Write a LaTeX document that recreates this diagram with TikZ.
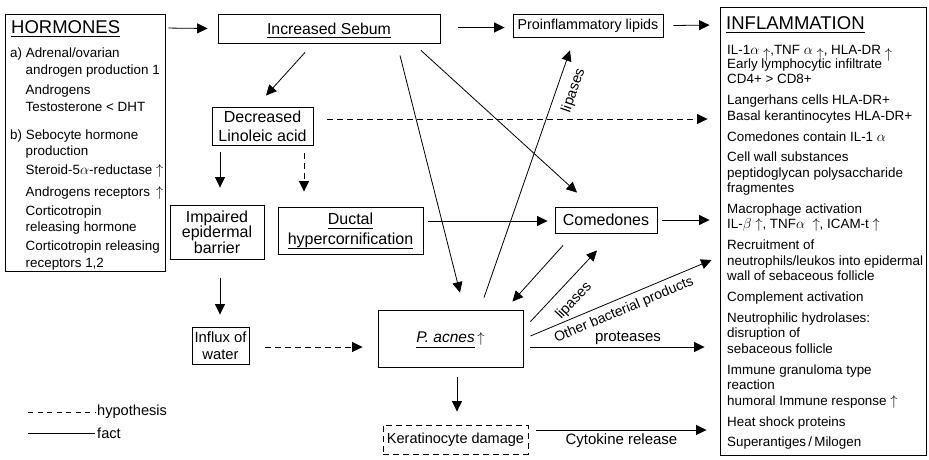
\documentclass[tikz,border=0pt]{standalone}
\usepackage{fontspec}
\setmainfont{Liberation Sans}
\usetikzlibrary{arrows.meta}
\newcommand\ulx[2][3.8pt]{\setbox0\hbox{#2}\rlap{\smash{\rule[-#1]{\wd0}{0.8pt}}}\box0}
\newcommand\lowup{\raisebox{-4pt}{$\uparrow$}}
\begin{document}
\begin{tikzpicture}[x=1pt,y=-1pt,
  box/.style={draw, line width=0.9pt, inner sep=0pt, align=center},
  arr/.style={-{Triangle[length=10.5pt,width=10pt]}, line width=0.8pt},
  dsh/.style={dash pattern=on 6pt off 4pt},
  itm/.style={anchor=base west, inner sep=0pt, font=\fontsize{13.4}{15.5}\selectfont},
  lbl/.style={font=\fontsize{15}{18}\selectfont, inner sep=1pt},
  slbl/.style={sloped, anchor=north, font=\fontsize{14.5}{17}\selectfont},
  ttl/.style={anchor=base west, inner sep=0pt, font=\fontsize{18.5}{20}\selectfont},
]
\useasboundingbox (0,0) rectangle (929,459);

% boxes
\node[box, minimum width=160pt, minimum height=257pt] (hormones) at (85,142.5) {};
\node[box, minimum width=222pt, minimum height=29pt, font=\fontsize{15.8}{18}\selectfont] (sebum) at (329,28.5) {\ulx{Increased Sebum}};
\node[box, minimum width=150pt, minimum height=23pt, font=\fontsize{14.3}{17}\selectfont] (proinf) at (588,25.5) {Proinflammatory lipids};
\node[box, minimum width=206pt, minimum height=448pt] (inflam) at (823,231) {};
\node[box, minimum width=101pt, minimum height=38pt, font=\fontsize{16}{19}\selectfont] (linoleic) at (262.5,126) {Decreased\\Linoleic acid};
\node[box, minimum width=94pt, minimum height=54pt, font=\fontsize{16}{15.5}\selectfont] (impaired) at (217,232) {Impaired\\epidermal\\barrier};
\node[box, minimum width=145pt, minimum height=47pt, font=\fontsize{16}{20}\selectfont] (ductal) at (350.5,230.5) {\ulx{Ductal}\\\ulx[4.5pt]{hypercornification}};
\node[box, minimum width=102pt, minimum height=26pt, font=\fontsize{16}{18}\selectfont] (comedones) at (606,220) {Comedones};
\node[box, minimum width=145pt, minimum height=57pt, font=\fontsize{15.5}{18}\selectfont] (pacnes) at (450.5,338.5) {\ulx[5pt]{\itshape P. acnes}\,$\uparrow$};
\node[box, dsh, minimum width=145pt, minimum height=29pt, font=\fontsize{14.5}{17}\selectfont] (kerat) at (455.5,439.5) {Keratinocyte damage};
\node[box, minimum width=57pt, minimum height=37pt, font=\fontsize{14.8}{17}\selectfont] (influx) at (220.5,345.5) {Influx of\\water};

% HORMONES text
\node[ttl] (htitle) at (11,33.6) {\ulx[3.5pt]{HORMONES}};
\node[itm] (h1) at (10,57.8) {a) Adrenal/ovarian};
\node[itm] (h2) at (25.5,74.8) {androgen production 1};
\node[itm] (h3) at (25.5,94.8) {Androgens};
\node[itm] (h4) at (25.5,111.8) {Testosterone < DHT};
\node[itm] (h5) at (10,139.8) {b) Sebocyte hormone};
\node[itm] (h6) at (25.5,155.8) {production};
\node[itm] (h7) at (25.5,174.8) {Steroid-5$\alpha$-reductase $\uparrow$};
\node[itm] (h8) at (25.5,196.8) {Androgens receptors\, $\uparrow$};
\node[itm] (h9) at (25.5,215.8) {Corticotropin};
\node[itm] (h10) at (25.5,231.8) {releasing hormone};
\node[itm] (h11) at (25.5,250.8) {Corticotropin releasing};
\node[itm] (h12) at (25.5,267.8) {receptors 1,2};

% INFLAMMATION text
\node[ttl] (ititle) at (726,29) {\ulx[3.5pt]{INFLAMMATION}};
\node[itm] (i1) at (727,54.8) {IL-1$\alpha$ \lowup,TNF $\alpha$ \lowup, HLA-DR \lowup};
\node[itm] (i2) at (727,68.3) {Early lymphocytic infiltrate};
\node[itm] (i3) at (727,83.8) {CD4+ > CD8+};
\node[itm] (i4) at (727,104.8) {Langerhans cells HLA-DR+};
\node[itm] (i5) at (727,120.8) {Basal kerantinocytes HLA-DR+};
\node[itm] (i6) at (727,141.3) {Comedones contain IL-1 $\alpha$};
\node[itm] (i7) at (727,161.8) {Cell wall substances};
\node[itm] (i8) at (727,177.3) {peptidoglycan polysaccharide};
\node[itm] (i9) at (727,192.8) {fragmentes};
\node[itm] (i10) at (727,213.3) {Macrophage activation};
\node[itm] (i11) at (727,228.8) {IL-$\beta$ $\uparrow$, TNF$\alpha$\ \ $\uparrow$, ICAM-t $\uparrow$};
\node[itm] (i12) at (727,249.8) {Recruitment of};
\node[itm] (i13) at (727,265.3) {neutrophils/leukos into epidermal};
\node[itm] (i14) at (727,280.8) {wall of sebaceous follicle};
\node[itm] (i15) at (727,301.8) {Complement activation};
\node[itm] (i16) at (727,322.3) {Neutrophilic hydrolases:};
\node[itm] (i17) at (727,337.8) {disruption of};
\node[itm] (i18) at (727,353.3) {sebaceous follicle};
\node[itm] (i19) at (727,374.3) {Immune granuloma type};
\node[itm] (i20) at (727,389.8) {reaction};
\node[itm] (i21) at (727,405.3) {humoral Immune response $\uparrow$};
\node[itm] (i22) at (727,426.3) {Heat shock proteins};
\node[itm] (i23) at (727,446.8) {Superantiges\,/\,Milogen};

% connectors
\draw[arr] ([shift={(3,14.5)}]hormones.north east) -- ([shift={(-10,0)}]sebum.west);
\draw[arr] ([shift={(18,-1)}]sebum.east) -- ([shift={(-8,2)}]proinf.west);
\draw[arr] ([shift={(10,0)}]proinf.east) -- ([shift={(-10,18.5)}]inflam.north west);
\draw[arr] ([shift={(-24,9)}]sebum.south) -- ([shift={(3.5,-11)}]linoleic.north);
\draw[arr,dsh] ([shift={(14,-7)}]linoleic.east) -- ([shift={(-12,-112)}]inflam.west);
\draw[arr] ([shift={(-42.5,7)}]linoleic.south) -- ([shift={(3,-17)}]impaired.north);
\draw[arr,dsh] ([shift={(41.5,8)}]linoleic.south) -- ([shift={(-46.5,-15)}]ductal.north);
\draw[arr] ([shift={(3,19)}]impaired.south) -- ([shift={(-0.5,-12)}]influx.north);
\draw[arr,dsh] ([shift={(16,1.5)}]influx.east) -- ([shift={(-15,8.5)}]pacnes.west);
\draw[arr] ([shift={(5,-9.5)}]ductal.east) -- ([shift={(-7,1)}]comedones.west);
\draw[arr] ([shift={(5,0)}]comedones.east) -- ([shift={(-10,-11)}]inflam.west);
\draw[arr] ([shift={(71,12)}]sebum.south) -- ([shift={(9.5,-17)}]pacnes.north);
\draw[arr] ([shift={(92,7)}]sebum.south) -- ([shift={(-29,-14)}]comedones.north);
\draw[arr] ([shift={(33.5,-12)}]pacnes.north) -- node[slbl, inner sep=9.5pt, pos=0.86] (lip1) {lipases} ([shift={(-18,13)}]proinf.south);
\draw[arr] ([shift={(-43,12)}]comedones.south) -- ([shift={(-11,-8)}]pacnes.north east);
\draw[arr] ([shift={(7,12)}]pacnes.north east) -- node[slbl, inner sep=10.5pt, pos=0.46] (lip2) {lipases} ([shift={(-9,17)}]comedones.south);
\draw[arr] ([shift={(7,-2.5)}]pacnes.east) -- node[slbl, inner sep=5.5pt, pos=0.49, font=\fontsize{14}{16}\selectfont] (obp) {Other bacterial products} ([shift={(-8,29)}]inflam.west);
\draw[arr] ([shift={(7,8.5)}]pacnes.east) -- node[above=1pt, pos=0.56, lbl] (prot) {proteases} ([shift={(-15,116)}]inflam.west);
\draw[arr] ([shift={(6.5,10)}]pacnes.south) -- ([shift={(1.5,-13)}]kerat.north);
\draw[arr] ([shift={(8,-9.5)}]kerat.east) -- node[below=2pt, pos=0.5, lbl] (cyto) {Cytokine release} ([shift={(-13,199)}]inflam.west);

% legend
\coordinate (lh1) at (28,412);
\coordinate (lf1) at (28,433);
\node[anchor=west, inner sep=2pt, font=\fontsize{14.6}{17}\selectfont] (hyp) at (95,412) {hypothesis};
\node[anchor=west, inner sep=2pt, font=\fontsize{14.6}{17}\selectfont] (fact) at (95,433) {fact};
\draw[line width=0.8pt, dash pattern=on 5pt off 4.5pt] (lh1) -- (hyp.west);
\draw[line width=0.8pt] (lf1) -- (fact.west);
\end{tikzpicture}
\end{document}
